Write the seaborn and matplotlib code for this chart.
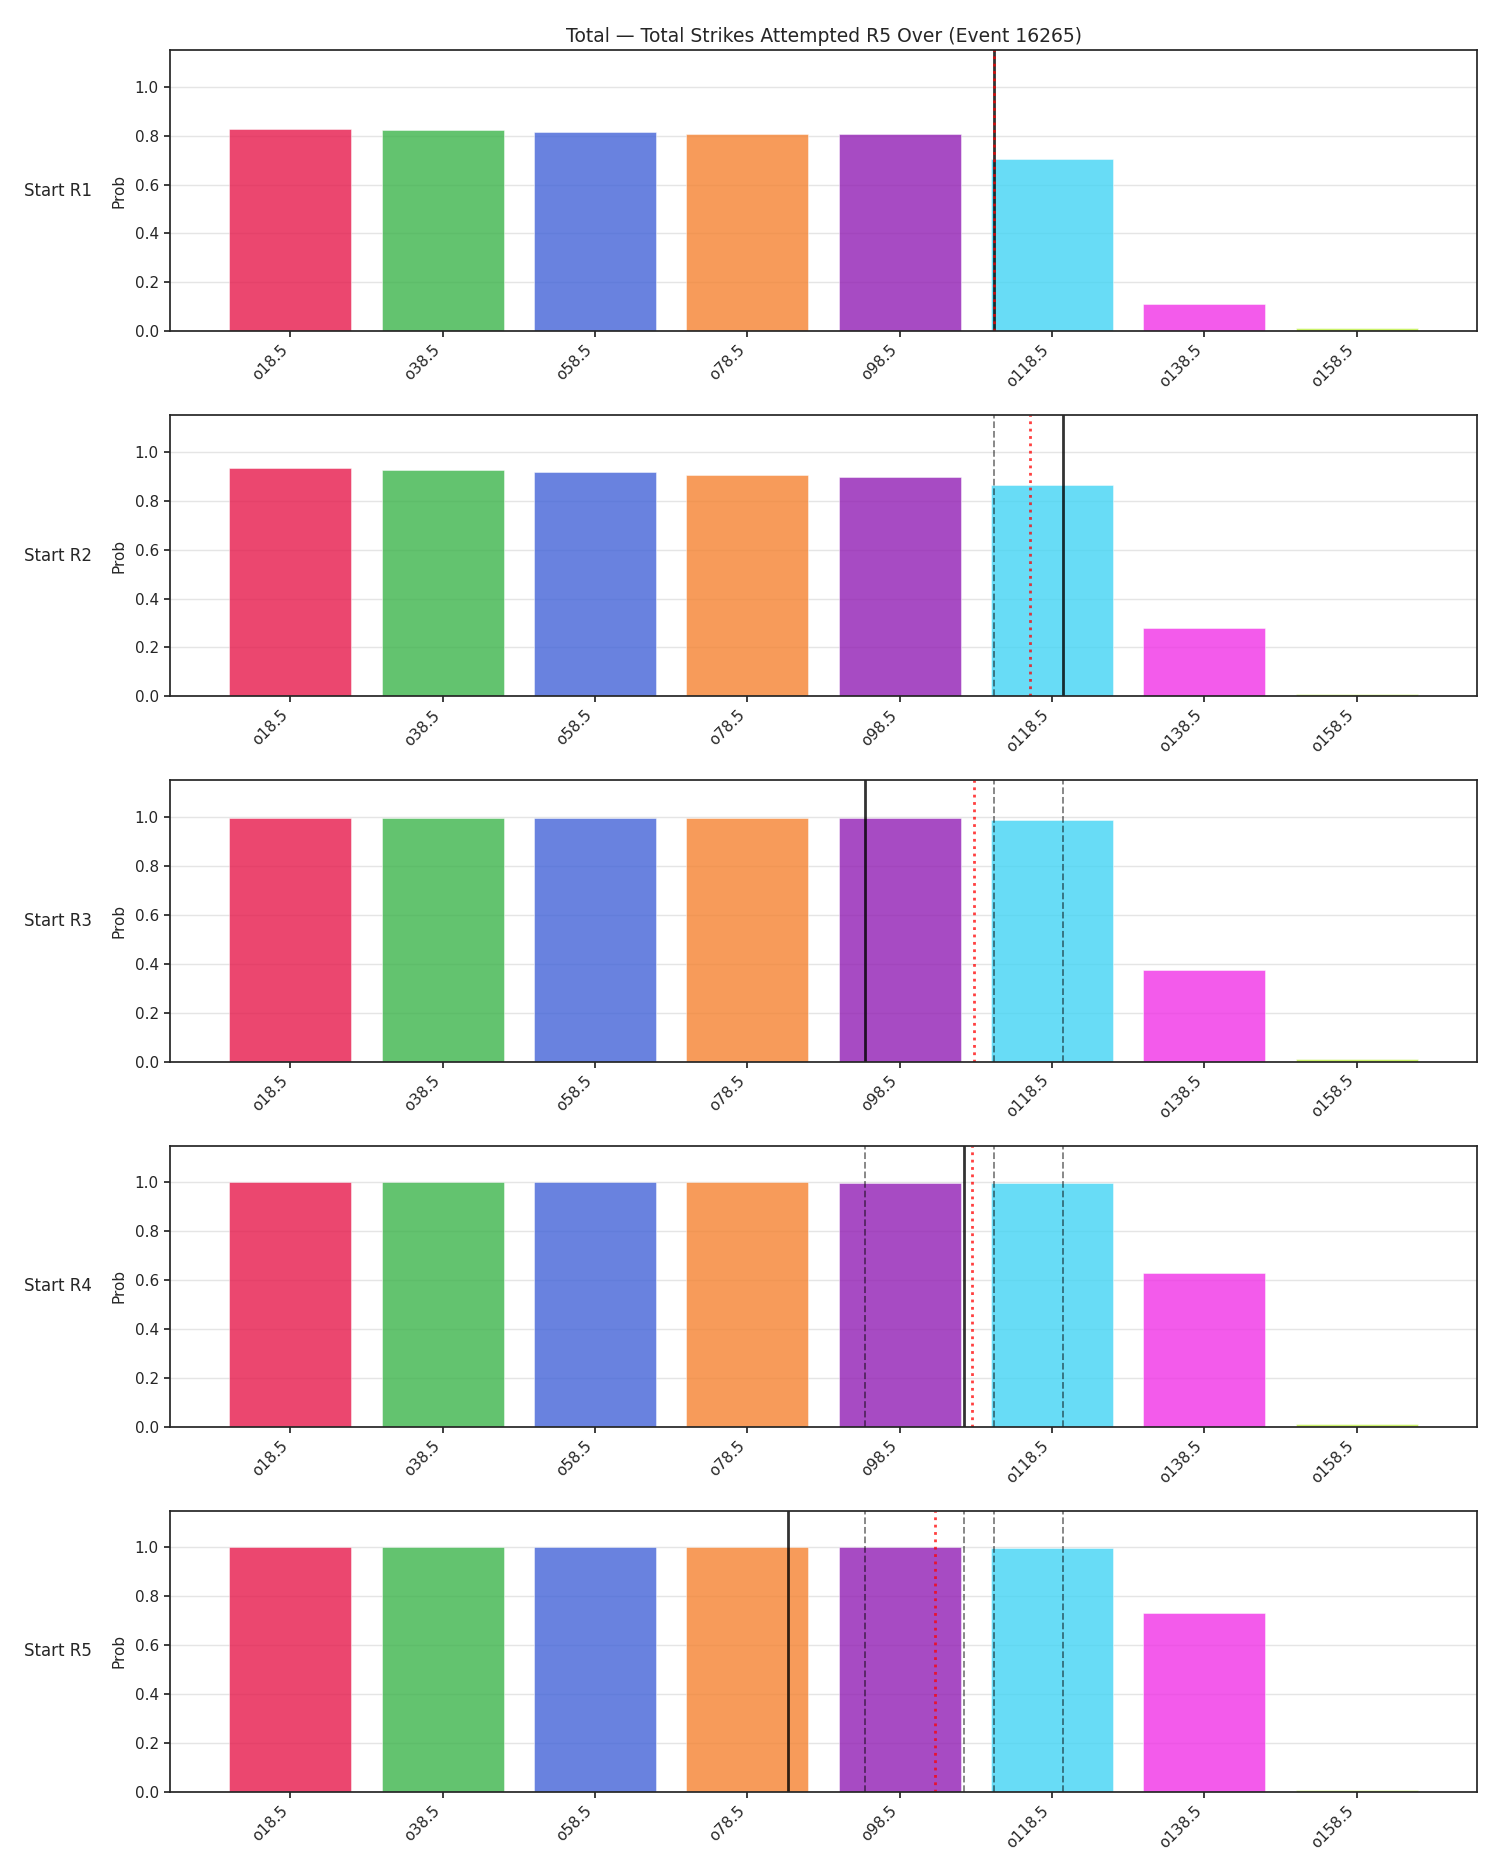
import numpy as np
import matplotlib
matplotlib.use("Agg")
import matplotlib.pyplot as plt
import seaborn as sns

# strike lines on the x axis
lines = ["o18.5", "o38.5", "o58.5", "o78.5", "o98.5", "o118.5", "o138.5", "o158.5"]
line_vals = [18.5, 38.5, 58.5, 78.5, 98.5, 118.5, 138.5, 158.5]

rows = ["Start R1", "Start R2", "Start R3", "Start R4", "Start R5"]

# over probabilities per starting round
prob_r1 = [0.829, 0.821, 0.813, 0.805, 0.805, 0.703, 0.113, 0.012]
prob_r2 = [0.936, 0.928, 0.919, 0.906, 0.899, 0.863, 0.279, 0.008]
prob_r3 = [0.998, 0.998, 0.998, 0.997, 0.997, 0.990, 0.376, 0.011]
prob_r4 = [1.0, 1.0, 1.0, 1.0, 0.999, 0.997, 0.628, 0.010]
prob_r5 = [1.0, 1.0, 1.0, 1.0, 1.0, 0.999, 0.732, 0.008]
probs = [prob_r1, prob_r2, prob_r3, prob_r4, prob_r5]

# solid line = current pace, red dotted = projection (strikes)
current = [110.9, 120.0, 93.9, 106.9, 83.9]
projected = [110.9, 115.6, 108.3, 108.0, 103.2]

colors = ["#e6194b", "#3cb44b", "#4363d8", "#f58231", "#911eb4", "#42d4f4", "#f032e6", "#bfef45"]

sns.set_theme(style="ticks", context="notebook")
plt.rcParams["xtick.major.size"] = 4.5
plt.rcParams["ytick.major.size"] = 4.5


def to_pos(v):
    # strike value -> position on the categorical axis
    return np.interp(v, line_vals, np.arange(len(line_vals)))


fig, axes = plt.subplots(len(rows), 1, figsize=(15, 18.75), dpi=100)

for i, ax in enumerate(axes):
    sns.barplot(x=lines, y=probs[i], hue=lines, palette=colors, saturation=1,
                alpha=0.8, width=0.8, legend=False, edgecolor="white", linewidth=0.4, ax=ax)
    ax.set_xlim(-0.79, 7.79)
    ax.set_ylim(0, 1.15)
    ax.set_yticks([0, 0.2, 0.4, 0.6, 0.8, 1.0])
    ax.grid(axis="y", color="#e5e5e5", lw=1)
    ax.set_axisbelow(True)
    for s in ax.spines.values():
        s.set_visible(True)

    # earlier rounds' pace
    for j in range(i):
        ax.axvline(to_pos(current[j]), color="black", ls="--", lw=1.3, alpha=0.5)
    ax.axvline(to_pos(current[i]), color="black", lw=2, alpha=0.8)
    ax.axvline(to_pos(projected[i]), color="red", ls=":", lw=2, alpha=0.75)

    ax.set_ylabel("Prob", fontsize=11, labelpad=6)
    ax.set_xlabel("")
    ax.tick_params(axis="both", labelsize=11)
    plt.setp(ax.get_xticklabels(), rotation=45, ha="right")
    ax.text(-0.06, 0.5, rows[i], transform=ax.transAxes, ha="right", va="center", fontsize=12)

axes[0].set_title("Total \u2014 Total Strikes Attempted R5 Over (Event 16265)", fontsize=13.5)

fig.subplots_adjust(left=0.1133, right=0.9847, top=0.9733, bottom=0.0443, hspace=0.299)
fig.savefig("out.png")
